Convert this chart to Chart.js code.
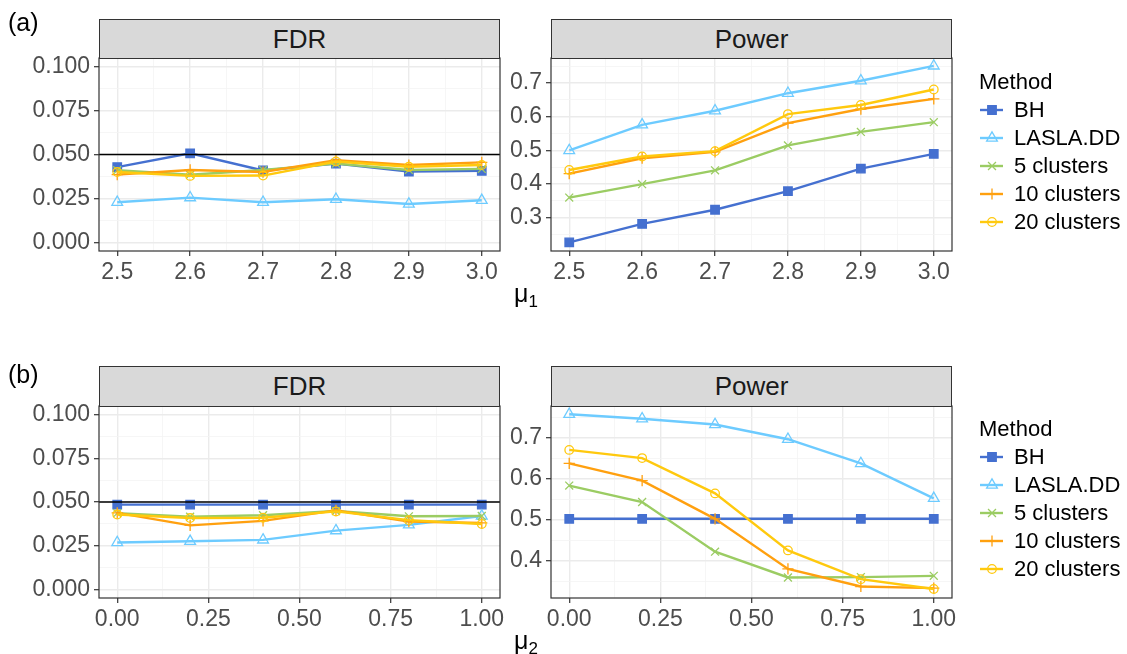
<!DOCTYPE html>
<html>
<head>
<meta charset="utf-8">
<script src="https://cdn.jsdelivr.net/npm/chart.js@4.4.1/dist/chart.umd.min.js"></script>
<style>
  body {
    margin: 0;
    width: 1127px;
    height: 654px;
    position: relative;
    overflow: hidden;
    background: #ffffff;
    font-family: 'Liberation Sans', Arial, sans-serif;
  }
  canvas.panel { position: absolute; }
  .strip {
    position: absolute;
    box-sizing: border-box;
    background: #d9d9d9;
    border: 1.2px solid #333333;
    color: #1a1a1a;
    font-size: 26px;
    display: flex;
    align-items: center;
    justify-content: center;
  }
  .tag { position: absolute; font-size: 25px; color: #000000; }
  .axis-title { position: absolute; width: 60px; text-align: center; font-size: 25px; color: #000000; }
  .axis-title sub { font-size: 17px; vertical-align: -5px; }
  .legend { position: absolute; left: 979px; color: #000000; font-size: 22px; }
  .legend .title { height: 28px; line-height: 28px; }
  .legend .item { display: flex; align-items: center; height: 27.9px; }
  .legend canvas { margin-right: 9px; }
</style>
</head>
<body>

<script>
// x values of the two simulation settings
var mu1 = [2.5, 2.6, 2.7, 2.8, 2.9, 3.0];
var mu2 = [0.0, 0.2, 0.4, 0.6, 0.8, 1.0];

var methods = ['BH', 'LASLA.DD', '5 clusters', '10 clusters', '20 clusters'];

// one row per method, one column per x value
var fdrMu1 = [
  [0.0428, 0.0507, 0.0409, 0.0448, 0.0403, 0.0407],
  [0.0228, 0.0254, 0.0228, 0.0245, 0.0218, 0.0239],
  [0.0410, 0.0385, 0.0412, 0.0448, 0.0412, 0.0418],
  [0.0385, 0.0412, 0.0400, 0.0468, 0.0440, 0.0455],
  [0.0400, 0.0378, 0.0380, 0.0460, 0.0430, 0.0440]
];
var powerMu1 = [
  [0.227, 0.282, 0.324, 0.379, 0.446, 0.490],
  [0.500, 0.576, 0.618, 0.670, 0.707, 0.751],
  [0.360, 0.400, 0.441, 0.515, 0.555, 0.584],
  [0.431, 0.477, 0.496, 0.581, 0.623, 0.653],
  [0.442, 0.482, 0.498, 0.608, 0.635, 0.681]
];
var fdrMu2 = [
  [0.0485, 0.0485, 0.0485, 0.0485, 0.0485, 0.0485],
  [0.0268, 0.0275, 0.0283, 0.0336, 0.0369, 0.0420],
  [0.0436, 0.0416, 0.0424, 0.0448, 0.0418, 0.0420],
  [0.0438, 0.0366, 0.0392, 0.0452, 0.0388, 0.0380],
  [0.0428, 0.0408, 0.0410, 0.0446, 0.0396, 0.0374]
];
var powerMu2 = [
  [0.502, 0.502, 0.502, 0.502, 0.502, 0.502],
  [0.757, 0.746, 0.732, 0.696, 0.637, 0.552],
  [0.583, 0.543, 0.422, 0.359, 0.360, 0.363],
  [0.637, 0.595, 0.502, 0.380, 0.337, 0.333],
  [0.670, 0.650, 0.564, 0.425, 0.355, 0.331]
];

// tick labels
var mu1Ticks = [2.5, 2.6, 2.7, 2.8, 2.9, 3.0];
var mu2Ticks = [0.00, 0.25, 0.50, 0.75, 1.00];
var fdrTicks = [0.000, 0.025, 0.050, 0.075, 0.100];
var powerMu1Ticks = [0.3, 0.4, 0.5, 0.6, 0.7];
var powerMu2Ticks = [0.4, 0.5, 0.6, 0.7];

var fdrTarget = 0.05;

var colors = ['#4570d0', '#6dcbff', '#9bcc63', '#ffa00f', '#ffc90e'];
var shapes = ['rect', 'triangle', 'crossRot', 'cross', 'circle'];
var radii = [6, 6.2, 5.6, 5.6, 4.3];
var filled = [true, false, false, false, false];

// room kept around the plot area inside each canvas
var PAD_LEFT = 100, PAD_TOP = 24, PAD_RIGHT = 30, PAD_BOTTOM = 45;

Chart.defaults.font.family = "'Liberation Sans', Arial, sans-serif";


function isMajor(v, majors) {
  for (var i = 0; i < majors.length; i++) {
    if (Math.abs(majors[i] - v) < 1e-9) return true;
  }
  return false;
}

// major ticks plus the half-way minor grid lines inside [lo, hi]
function withMinors(majors, lo, hi) {
  var step = majors[1] - majors[0];
  var all = [];
  for (var v = majors[0] - step / 2; v <= majors[majors.length - 1] + step / 2 + 1e-9; v += step / 2) {
    if (v >= lo - 1e-9 && v <= hi + 1e-9) all.push(Math.round(v * 1e6) / 1e6);
  }
  return all;
}

function axis(range, majors, digits, isX) {
  var all = withMinors(majors, range[0], range[1]);
  return {
    type: 'linear',
    min: range[0],
    max: range[1],
    afterBuildTicks: function(scale) {
      scale.ticks = all.map(function(v) { return { value: v }; });
    },
    afterFit: function(scale) {
      if (isX) scale.height = PAD_BOTTOM; else scale.width = PAD_LEFT;
    },
    border: { display: false },
    grid: {
      color: function(ctx) { return ctx.tick && isMajor(ctx.tick.value, majors) ? '#ebebeb' : '#f4f4f4'; },
      lineWidth: function(ctx) { return ctx.tick && isMajor(ctx.tick.value, majors) ? 1.4 : 0.8; },
      tickColor: function(ctx) { return ctx.tick && isMajor(ctx.tick.value, majors) ? '#333333' : 'rgba(0,0,0,0)'; },
      tickWidth: 1.2,
      tickLength: 5,
      drawTicks: true
    },
    ticks: {
      autoSkip: false,
      maxRotation: 0,
      color: '#4d4d4d',
      font: { size: 23 },
      padding: isX ? 3 : 4,
      callback: function(value) {
        return isMajor(value, majors) ? value.toFixed(digits) : '';
      }
    }
  };
}

// panel border and the optional reference line
var panelPlugin = {
  id: 'panelFrame',
  afterDatasetsDraw: function(chart, args, opts) {
    var a = chart.chartArea;
    var ctx = chart.ctx;
    ctx.save();
    if (opts.refLine !== undefined && opts.refLine !== null) {
      var y = chart.scales.y.getPixelForValue(opts.refLine);
      ctx.strokeStyle = '#000000';
      ctx.lineWidth = 1.6;
      ctx.beginPath();
      ctx.moveTo(a.left, y);
      ctx.lineTo(a.right, y);
      ctx.stroke();
    }
    ctx.strokeStyle = '#333333';
    ctx.lineWidth = 1.2;
    ctx.strokeRect(a.left, a.top, a.right - a.left, a.bottom - a.top);
    ctx.restore();
  }
};


function makePanel(box, xs, xRange, xMajors, xDigits, series, yRange, yMajors, yDigits, refLine) {
  var canvas = document.createElement('canvas');
  canvas.className = 'panel';
  var w = box.right - box.left + PAD_LEFT + PAD_RIGHT;
  var h = box.bottom - box.top + PAD_TOP + PAD_BOTTOM;
  canvas.width = w;
  canvas.height = h;
  canvas.style.left = (box.left - PAD_LEFT) + 'px';
  canvas.style.top = (box.top - PAD_TOP) + 'px';
  canvas.style.width = w + 'px';
  canvas.style.height = h + 'px';
  document.body.appendChild(canvas);

  var datasets = [];
  for (var i = 0; i < methods.length; i++) {
    datasets.push({
      label: methods[i],
      data: xs.map(function(x, j) { return { x: x, y: series[i][j] }; }),
      borderColor: colors[i],
      backgroundColor: colors[i],
      borderWidth: 2.4,
      pointStyle: shapes[i],
      pointRadius: radii[i],
      pointBorderWidth: 1.3,
      pointBackgroundColor: filled[i] ? colors[i] : 'rgba(0,0,0,0)',
      pointBorderColor: colors[i],
      order: methods.length - i,
      tension: 0
    });
  }

  return new Chart(canvas, {
    type: 'line',
    data: { datasets: datasets },
    options: {
      responsive: false,
      devicePixelRatio: 1,
      animation: false,
      events: [],
      layout: { padding: { left: 0, top: PAD_TOP, right: PAD_RIGHT, bottom: 0 } },
      plugins: {
        legend: { display: false },
        tooltip: { enabled: false },
        panelFrame: { refLine: refLine }
      },
      scales: {
        x: axis(xRange, xMajors, xDigits, true),
        y: axis(yRange, yMajors, yDigits, false)
      }
    },
    plugins: [panelPlugin]
  });
}

function addStrip(box, stripTop, text) {
  var d = document.createElement('div');
  d.className = 'strip';
  d.style.left = box.left + 'px';
  d.style.top = stripTop + 'px';
  d.style.width = (box.right - box.left) + 'px';
  d.style.height = (box.top - stripTop + 1) + 'px';
  d.textContent = text;
  document.body.appendChild(d);
}

function addText(cls, left, top, html) {
  var d = document.createElement('div');
  d.className = cls;
  d.style.left = left + 'px';
  d.style.top = top + 'px';
  d.innerHTML = html;
  document.body.appendChild(d);
}

function drawKey(canvas, i) {
  var ctx = canvas.getContext('2d');
  var cy = canvas.height / 2;
  ctx.strokeStyle = colors[i];
  ctx.lineWidth = 2.4;
  ctx.beginPath();
  ctx.moveTo(1, cy);
  ctx.lineTo(canvas.width - 2, cy);
  ctx.stroke();
  ctx.fillStyle = filled[i] ? colors[i] : 'rgba(0,0,0,0)';
  ctx.lineWidth = 1.3;
  if (Chart.helpers && Chart.helpers.drawPoint) {
    Chart.helpers.drawPoint(ctx, {
      pointStyle: shapes[i], rotation: 0, radius: radii[i], borderWidth: 1.3
    }, canvas.width / 2, cy);
  }
}

function addLegend(top) {
  var box = document.createElement('div');
  box.className = 'legend';
  box.style.top = top + 'px';
  var t = document.createElement('div');
  t.className = 'title';
  t.textContent = 'Method';
  box.appendChild(t);
  for (var i = 0; i < methods.length; i++) {
    var row = document.createElement('div');
    row.className = 'item';
    var key = document.createElement('canvas');
    key.width = 26;
    key.height = 20;
    drawKey(key, i);
    var label = document.createElement('span');
    label.textContent = methods[i];
    row.appendChild(key);
    row.appendChild(label);
    box.appendChild(row);
  }
  document.body.appendChild(box);
}


document.addEventListener('DOMContentLoaded', function() {
  var fdrA = { left: 99, right: 500, top: 58, bottom: 251 };
  var powA = { left: 551, right: 952, top: 58, bottom: 251 };
  var fdrB = { left: 99, right: 500, top: 406, bottom: 598 };
  var powB = { left: 551, right: 952, top: 406, bottom: 598 };

  makePanel(fdrA, mu1, [2.475, 3.025], mu1Ticks, 1, fdrMu1, [-0.005, 0.105], fdrTicks, 3, fdrTarget);
  makePanel(powA, mu1, [2.475, 3.025], mu1Ticks, 1, powerMu1, [0.2015, 0.7745], powerMu1Ticks, 1, null);
  makePanel(fdrB, mu2, [-0.05, 1.05], mu2Ticks, 2, fdrMu2, [-0.005, 0.105], fdrTicks, 3, fdrTarget);
  makePanel(powB, mu2, [-0.05, 1.05], mu2Ticks, 2, powerMu2, [0.309, 0.777], powerMu2Ticks, 1, null);

  addStrip(fdrA, 19, 'FDR');
  addStrip(powA, 19, 'Power');
  addStrip(fdrB, 366, 'FDR');
  addStrip(powB, 366, 'Power');

  addText('tag', 8, 8, '(a)');
  addText('tag', 8, 360, '(b)');
  addText('axis-title', 496, 279, '&mu;<sub>1</sub>');
  addText('axis-title', 496, 626, '&mu;<sub>2</sub>');

  addLegend(68);
  addLegend(415);
});
</script>
</body>
</html>
